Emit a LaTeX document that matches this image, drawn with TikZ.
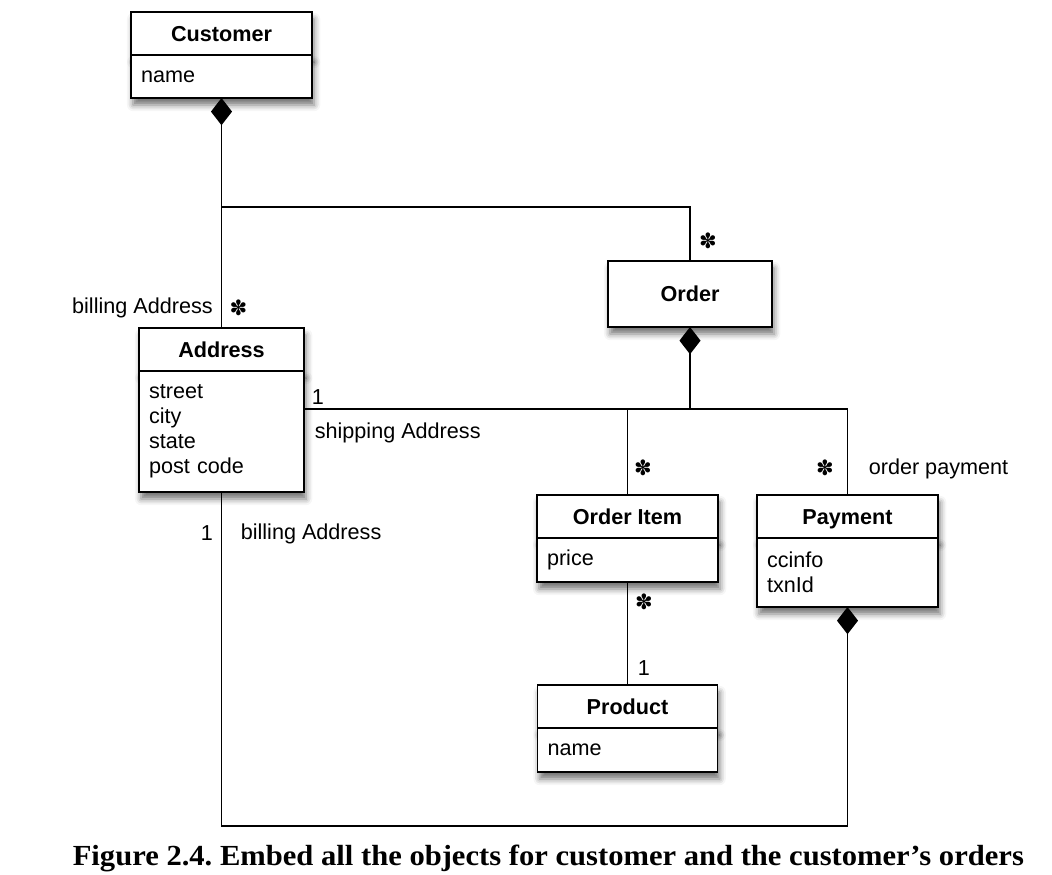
\documentclass[tikz,border=0pt]{standalone}
\usepackage{fontspec}
\setmainfont{Liberation Sans}
\newfontfamily\capfont{Liberation Serif}
\newfontfamily\starfont{DejaVu Sans}
\usepackage{tikz}
\usetikzlibrary{
	arrows.meta,
	positioning,
	shadows.blur
}
\tikzset{every path/.append style={line width=0.9pt}}
\newcommand{\diagfont}{\fontsize{12.3}{14.3}\selectfont}
\tikzset{
	boxshadow/.style={blur shadow={shadow xshift=1.2pt,shadow yshift=-4pt,shadow blur radius=3.5pt,shadow opacity=55}},
	classhead/.style={draw,fill=white,line width=1.1pt,font=\diagfont\bfseries,minimum height=0.86cm,text height=0.9em,text depth=0pt,inner sep=0pt,outer sep=0pt,boxshadow},
	classbody/.style={draw,fill=white,line width=1.1pt,align=left,inner xsep=0.2cm,inner ysep=0pt,outer sep=0pt,boxshadow},
	comp/.style={{Diamond[length=15.5pt,width=12pt]}-},
	lbl/.style={inner sep=0pt},
	mult/.style={inner sep=0pt,font=\starfont\fontsize{12}{14}\selectfont}
}
% class box: name, top centre, width, title, attributes, body height
\newcommand{\umlClass}[6]{
	\node (#1) at #2 [classhead,anchor=north,minimum width=#3] {#4};
	\node (#1b) [classbody,below=0pt of #1,minimum width=#3,text width=#3-0.4cm,minimum height=#6] {#5};
}

\begin{document}
\frenchspacing
\begin{tikzpicture}[font=\diagfont]
	\useasboundingbox (0,0) rectangle (21.04,17.48);
	
	\umlClass{customer}{(4.43,17.24)}{3.62cm}{Customer}{name}{0.86cm}
	\umlClass{address}{(4.43,10.92)}{3.3cm}{Address}{street\\city\\state\\post code}{2.42cm}
	\node (order) at (13.8,12.26) [classhead,anchor=north,minimum width=3.28cm,minimum height=1.32cm] {Order};
	\umlClass{orderitem}{(12.55,7.58)}{3.62cm}{Order Item}{price}{0.88cm}
	\umlClass{payment}{(16.95,7.58)}{3.62cm}{Payment}{ccinfo\\txnId}{1.38cm}
	\umlClass{product}{(12.55,3.78)}{3.6cm}{Product}{name}{0.88cm}
	
	\coordinate (cj) at (4.43,13.34);
	\coordinate (oj) at (13.8,9.3);
	\coordinate (pj) at (4.43,0.96);
	
	\draw[comp] (customerb.south) -- (address.north);
	\draw (cj) -| (order.north);
	\draw[comp] (order.south) -- (oj);
	\draw (addressb.east |- oj) -| (payment.north);
	\draw (orderitem.north) -- (orderitem.north |- oj);
	\draw (orderitemb.south) -- (product.north);
	\draw[comp] (paymentb.south) |- (pj) -- (addressb.south);
	
	\node[lbl,anchor=base east] (billA) at (4.27,11.22) {billing Address};
	\node[mult] (mA) at (4.77,11.32) {✽};
	\node[mult] (mO) at (14.16,12.66) {✽};
	\node[lbl] (oneS) at (6.36,9.54) {1};
	\node[lbl,anchor=base west] (shipA) at (6.28,8.72) {shipping Address};
	\node[lbl] (oneB) at (4.14,6.82) {1};
	\node[lbl,anchor=base west] (billB) at (4.8,6.70) {billing Address};
	\node[mult] (mI) at (12.86,8.12) {✽};
	\node[mult] (mP) at (16.5,8.12) {✽};
	\node[lbl,anchor=base west] (payL) at (17.36,8.0) {order payment};
	\node[mult] (mIP) at (12.88,5.44) {✽};
	\node[lbl] (oneP) at (12.88,4.12) {1};
	
	\node[lbl,anchor=base west] (caption) at (1.44,0.18) {\resizebox{19.02cm}{0.41cm}{\capfont\bfseries Figure 2.4. Embed all the objects for customer and the customer’s orders}};
\end{tikzpicture}
\end{document}
